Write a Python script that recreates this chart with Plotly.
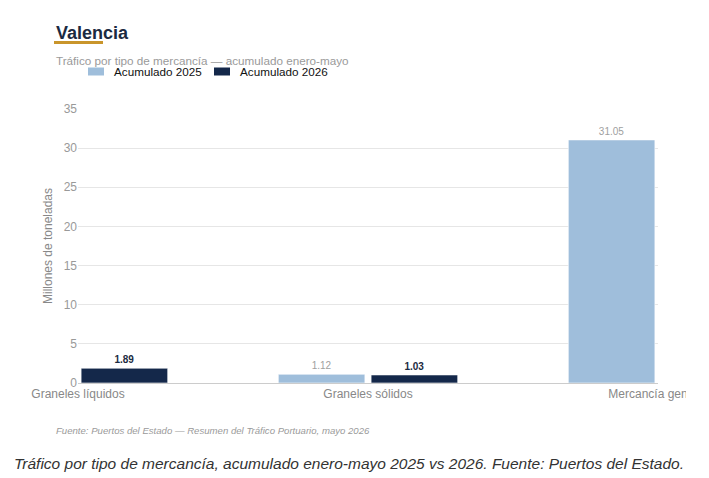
import plotly.graph_objects as go

categories = ["Graneles líquidos", "Graneles sólidos", "Mercancía general"]
acum_2025 = [None, 1.12, 31.05]
acum_2026 = [1.89, 1.03, None]
y_ticks = [0, 5, 10, 15, 20, 25, 30, 35]
series_names = ["Acumulado 2025", "Acumulado 2026"]

FONT = "Liberation Sans, Arial, sans-serif"
C25 = "#9fbedb"
C26 = "#14284a"

fig = go.Figure()
fig.add_trace(go.Bar(
    name=series_names[0], x=categories, y=acum_2025,
    marker=dict(color=C25, line=dict(color="rgba(255,255,255,0.6)", width=1)),
    texttemplate="%{y:.2f}", textposition="outside",
    textfont=dict(size=10, color="#a0a0a0", family=FONT),
))
fig.add_trace(go.Bar(
    name=series_names[1], x=categories, y=acum_2026,
    marker=dict(color=C26, line=dict(color="rgba(255,255,255,0.6)", width=1)),
    texttemplate="<b>%{y:.2f}</b>", textposition="outside",
    textfont=dict(size=10, color="#1b2a41", family=FONT),
))

L, R, T, B = 78, 51, 109, 95
W, H = 709, 478
pw, ph = W - L - R, H - T - B

def px(x):
    return (x - L) / pw

def py(y):
    return (H - B - y) / ph

fig.update_layout(
    width=W, height=H,
    margin=dict(l=L, r=R, t=T, b=B, autoexpand=False),
    paper_bgcolor="white", plot_bgcolor="white",
    font=dict(family=FONT, size=12, color="#888888"),
    barmode="group", bargap=0.36, bargroupgap=0.067,
    showlegend=False,
    xaxis=dict(type="category", range=[0, 2], showgrid=False, automargin=False,
               showline=True, linecolor="#cccccc", linewidth=1,
               tickfont=dict(size=12, color="#888888"), ticks=""),
    yaxis=dict(range=[0, 35], tickvals=y_ticks, showgrid=True, gridcolor="#e6e6e6",
               zeroline=False, showline=False, automargin=False,
               tickfont=dict(size=12, color="#999999"),
               title=dict(text="Millones de toneladas", font=dict(size=12, color="#888888"), standoff=8)),
)

# manual legend
legend_items = [(series_names[0], C25, 88, 112), (series_names[1], C26, 214, 238)]
for name, col, mx, tx in legend_items:
    fig.add_shape(type="rect", xref="paper", yref="paper", x0=px(mx), x1=px(mx + 16),
                  y0=py(75.5), y1=py(67.5), fillcolor=col, line=dict(width=0))
    fig.add_annotation(text=name, xref="paper", yref="paper", x=px(tx), y=py(71.5),
                       xanchor="left", yanchor="middle", showarrow=False,
                       font=dict(size=11.7, color="#111111", family=FONT))

fig.add_annotation(text="<b>Valencia</b>", xref="paper", yref="paper", x=px(54), y=py(33),
                   xanchor="left", yanchor="middle", showarrow=False,
                   font=dict(size=18, color="#1b2a41", family=FONT))
fig.add_shape(type="rect", xref="paper", yref="paper", x0=px(54), x1=px(103), y0=py(44), y1=py(41),
              fillcolor="#c9952b", line=dict(width=0))
fig.add_annotation(text="Tráfico por tipo de mercancía — acumulado enero-mayo", xref="paper", yref="paper",
                   x=px(54), y=py(60), xanchor="left", yanchor="middle", showarrow=False,
                   font=dict(size=11.7, color="#9a9a9a", family=FONT))
fig.add_annotation(text="<i>Fuente: Puertos del Estado — Resumen del Tráfico Portuario, mayo 2026</i>",
                   xref="paper", yref="paper", x=px(54), y=py(430), xanchor="left", yanchor="middle",
                   showarrow=False, font=dict(size=9.6, color="#9a9a9a", family=FONT))
# crop of the overflowing last tick label, as in the reference
fig.add_shape(type="rect", xref="paper", yref="paper", x0=px(686), x1=px(712), y0=py(405), y1=py(385),
              fillcolor="white", line=dict(width=0), layer="above")
fig.add_annotation(text="<i>Tráfico por tipo de mercancía, acumulado enero-mayo 2025 vs 2026. Fuente: Puertos del Estado.</i>",
                   xref="paper", yref="paper", x=px(12), y=py(463), xanchor="left", yanchor="middle",
                   showarrow=False, font=dict(size=15.5, color="#333333", family=FONT))

fig.write_html("out.html")
